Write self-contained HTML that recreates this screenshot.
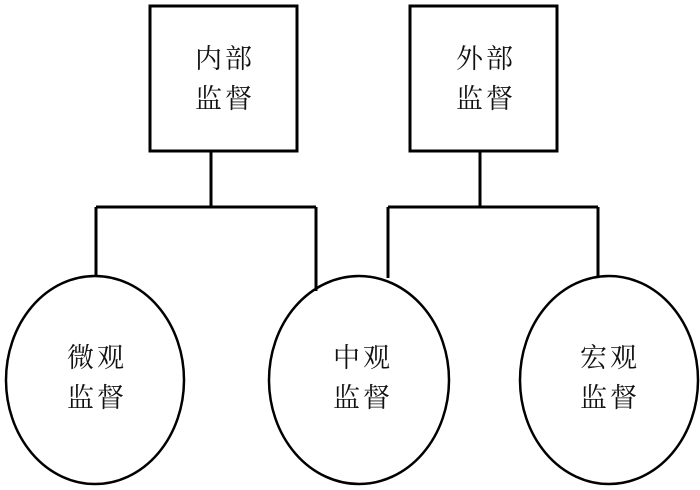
<!DOCTYPE html>
<html><head><meta charset="utf-8"><style>
html,body{margin:0;padding:0;background:#fff;}
svg{display:block;}
text{font-family:"Liberation Serif","Noto Serif CJK SC","Noto Sans CJK SC",serif;font-size:27px;fill:#111;letter-spacing:3px;text-anchor:middle;}
</style></head><body>
<svg width="700" height="490" viewBox="0 0 700 490" xmlns="http://www.w3.org/2000/svg">
<g fill="none" stroke="#000" stroke-width="3">
<rect x="150" y="6" width="147" height="145"/>
<rect x="410" y="6" width="147" height="145"/>
<path d="M211 151 V207 M96 207 H316 M96 207 V276 M316 207 V291"/>
<path d="M480 151 V207 M388 207 H598 M388 207 V278 M598 207 V278"/>
</g>
<g fill="none" stroke="#000" stroke-width="2.5">
<ellipse cx="95" cy="380" rx="89" ry="104"/>
<ellipse cx="359" cy="380" rx="90" ry="104"/>
<ellipse cx="609" cy="380" rx="89" ry="104"/>
</g>
<text x="225" y="68">内部</text>
<text x="225" y="108">监督</text>
<text x="486" y="68">外部</text>
<text x="486" y="108">监督</text>
<text x="97" y="367">微观</text>
<text x="97" y="407">监督</text>
<text x="363" y="367">中观</text>
<text x="363" y="407">监督</text>
<text x="610" y="367">宏观</text>
<text x="610" y="407">监督</text>
</svg>
</body></html>
